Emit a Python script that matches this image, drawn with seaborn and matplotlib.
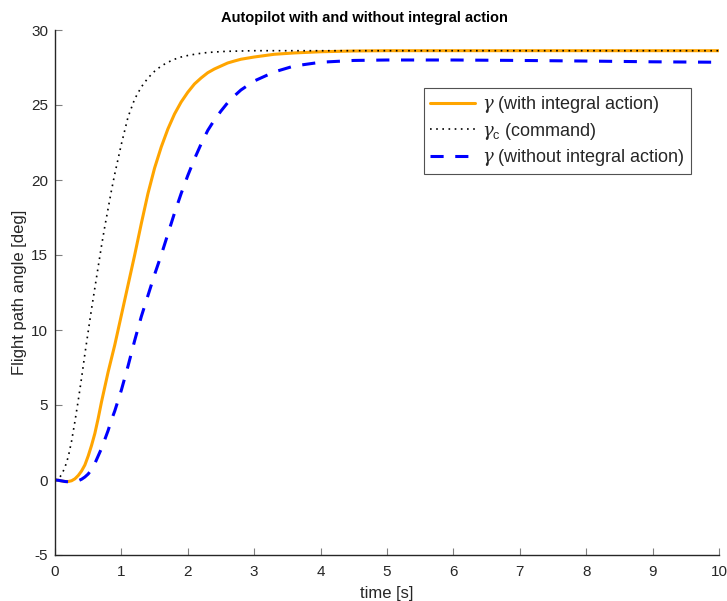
import matplotlib
matplotlib.use("Agg")
import matplotlib.pyplot as plt
import seaborn as sns
import pandas as pd

time_s = [0, 0.05, 0.1, 0.15, 0.2, 0.25, 0.3, 0.35, 0.4, 0.45, 0.5, 0.55, 0.6, 0.65, 0.7,
          0.75, 0.8, 0.85, 0.9, 0.95, 1.0,
          1.1, 1.2, 1.3, 1.4, 1.5, 1.6, 1.7, 1.8, 1.9, 2.0, 2.1, 2.2, 2.3, 2.4, 2.5, 2.6, 2.7, 2.8,
          3.0, 3.3, 3.6, 4.0, 4.5, 5, 6, 7, 8, 9, 10]

gamma_integral = [0, -0.02, -0.06, -0.1, -0.1, -0.05, 0.08, 0.3, 0.6, 1.0, 1.6, 2.3, 3.1, 4.1, 5.2,
                  6.2, 7.2, 8.1, 9.0, 10.0, 11.0,
                  13.0, 15.0, 17.1, 19.1, 20.8, 22.2, 23.4, 24.4, 25.2, 25.85, 26.4, 26.8, 27.15,
                  27.4, 27.6, 27.8, 27.93, 28.05,
                  28.2, 28.38, 28.47, 28.55, 28.6, 28.62, 28.62, 28.62, 28.62, 28.62, 28.62]

gamma_command = [0, 0.08, 0.35, 0.85, 1.55, 2.6, 3.9, 5.3, 6.8, 8.4, 9.9, 11.4, 12.8, 14.2, 15.6,
                 16.9, 18.1, 19.3, 20.4, 21.4, 22.4,
                 24.2, 25.4, 26.2, 26.8, 27.25, 27.6, 27.85, 28.05, 28.2, 28.3, 28.38, 28.45, 28.5,
                 28.53, 28.56, 28.58, 28.59, 28.6,
                 28.62, 28.62, 28.62, 28.62, 28.62, 28.62, 28.62, 28.62, 28.62, 28.62, 28.62]

gamma_no_integral = [0, -0.02, -0.06, -0.1, -0.12, -0.12, -0.1, -0.05, 0.05, 0.2, 0.4, 0.7, 1.1, 1.6,
                     2.1, 2.7, 3.3, 4.0, 4.6, 5.3, 6.0,
                     7.6, 9.3, 10.9, 12.3, 13.7, 15.0, 16.4, 17.8, 19.1, 20.3, 21.4, 22.4, 23.3,
                     24.0, 24.6, 25.15, 25.6, 26.0,
                     26.6, 27.2, 27.6, 27.85, 27.97, 28.0, 28.0, 27.97, 27.93, 27.88, 27.85]

labels = [r"$\gamma$ (with integral action)",
          r"$\gamma_\mathrm{c}$ (command)",
          r"$\gamma$ (without integral action)"]

title = "Autopilot with and without integral action"
x_label = "time [s]"
y_label = "Flight path angle [deg]"

sns.set_theme(style="white")
plt.rcParams["font.family"] = ["Liberation Sans", "DejaVu Sans"]
plt.rcParams["mathtext.fontset"] = "custom"
plt.rcParams["mathtext.rm"] = "Liberation Sans"
plt.rcParams["mathtext.it"] = "DejaVu Serif:italic"
plt.rcParams["axes.unicode_minus"] = False

fig = plt.figure(figsize=(7.27, 6.01), dpi=100)
ax = fig.add_axes([55 / 727, 46 / 601, 664 / 727, 525 / 601])

df = pd.DataFrame({"t": time_s, "a": gamma_integral, "c": gamma_command, "b": gamma_no_integral})

sns.lineplot(data=df, x="t", y="a", ax=ax, color="#FFA500", linewidth=2.2, label=labels[0])
sns.lineplot(data=df, x="t", y="c", ax=ax, color="black", linewidth=1.2, label=labels[1],
             linestyle=(0, (1, 2.7)))
sns.lineplot(data=df, x="t", y="b", ax=ax, color="#0000FF", linewidth=2.2, label=labels[2],
             linestyle=(0, (4.3, 3.8)))

ax.set_xlim(0, 10)
ax.set_ylim(-5, 30)
ax.set_xticks(range(0, 11))
ax.set_yticks(range(-5, 31, 5))
ax.set_xlabel(x_label, fontsize=12, color="#262626", labelpad=5)
ax.set_ylabel(y_label, fontsize=12, color="#262626", labelpad=3)
ax.set_title(title, fontsize=10.5, fontweight="bold", color="black", pad=6,
             x=(364 - 55) / 664)

for s in ["top", "right"]:
    ax.spines[s].set_visible(False)
for s in ["left", "bottom"]:
    ax.spines[s].set_color("#262626")
    ax.spines[s].set_linewidth(1.0)

ax.tick_params(direction="in", length=5, width=0.8, color="#808080", labelsize=11,
               labelcolor="#262626", pad=5, left=True, bottom=True)
ax.tick_params(axis="x", pad=7)

leg = ax.legend(loc="upper left", bbox_to_anchor=(424 / 727, 1 - 88 / 601),
                bbox_transform=fig.transFigure, fontsize=13, frameon=True, fancybox=False,
                handlelength=2.5, handletextpad=0.37, borderpad=0.35, labelspacing=0.3,
                borderaxespad=0)
leg.get_frame().set_edgecolor("#262626")
leg.get_frame().set_linewidth(0.8)

fig.savefig("out.png", dpi=100)
